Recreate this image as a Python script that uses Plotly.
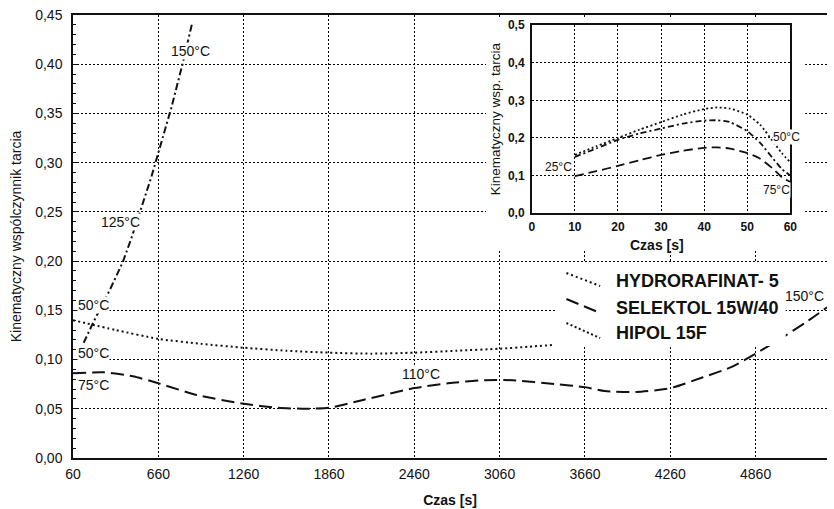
import plotly.graph_objects as go

# ---------------- data (main chart) ----------------
hydro_t = [60, 360, 660, 960, 1260, 1560, 1860, 2160, 2460, 2760, 3060, 3260, 3450]
hydro_k = [0.140, 0.130, 0.121, 0.116, 0.112, 0.109, 0.107, 0.106, 0.107, 0.109, 0.111, 0.113, 0.115]

selek_t = [60, 280, 480, 660, 930, 1260, 1500, 1700, 1860, 2100, 2460, 2700, 2950, 3150,
           3450, 3660, 3800, 4020, 4260, 4490, 4700, 4860, 5055, 5215, 5362]
selek_k = [0.086, 0.087, 0.083, 0.076, 0.064, 0.055, 0.051, 0.050, 0.051, 0.059, 0.071, 0.076,
           0.079, 0.079, 0.075, 0.072, 0.068, 0.067, 0.071, 0.082, 0.093, 0.106, 0.123, 0.138, 0.153]

hipol_t = [135, 200, 320, 410, 470, 525, 610, 680, 750, 830, 900]
hipol_k = [0.117, 0.137, 0.171, 0.199, 0.223, 0.247, 0.285, 0.320, 0.355, 0.400, 0.443]

# temperature labels on main chart: (text, time, value)
main_labels_text = ["150°C", "125°C", "50°C", "50°C", "75°C", "110°C", "150°C"]
main_labels_t = [889, 394, 206, 206, 206, 2510, 5202]
main_labels_k = [0.4136, 0.2402, 0.1555, 0.1067, 0.0742, 0.085, 0.1646]

x_ticks = [60, 660, 1260, 1860, 2460, 3060, 3660, 4260, 4860]
y_ticks = [0.00, 0.05, 0.10, 0.15, 0.20, 0.25, 0.30, 0.35, 0.40, 0.45]

# ---------------- data (inset) ----------------
ins_t = [10, 15, 20, 25, 30, 35, 40, 43, 46, 50, 53, 56, 58, 60]
ins_hydro = [0.155, 0.178, 0.200, 0.222, 0.242, 0.262, 0.277, 0.281, 0.278, 0.262, 0.235, 0.190, 0.160, 0.135]
ins_hipol = [0.150, 0.172, 0.195, 0.212, 0.225, 0.238, 0.246, 0.247, 0.242, 0.218, 0.187, 0.145, 0.118, 0.100]
ins_selek = [0.099, 0.112, 0.126, 0.141, 0.155, 0.166, 0.174, 0.175, 0.172, 0.160, 0.145, 0.118, 0.096, 0.083]

ins_labels_text = ["25°C", "50°C", "75°C"]
ins_labels_t = [6.2, 59.1, 56.8]
ins_labels_k = [0.123, 0.203, 0.062]

series_names = ["HYDRORAFINAT- 5", "SELEKTOL 15W/40", "HIPOL 15F"]

# ---------------- styles ----------------
FONT = "Arial, Liberation Sans, sans-serif"
INK = "#111111"
GRID = "#000000"
GRID_DASH = "2px,2px"
DASH_HYDRO = "2px,3px"
DASH_SELEK = "13px,6px"
DASH_HIPOL = "7px,3px,2px,3px"
INS_DASH_HYDRO = "2px,2.5px"
INS_DASH_SELEK = "9px,5px"
INS_DASH_HIPOL = "6px,3px,2px,3px"

fig = go.Figure()

# main curves
fig.add_trace(go.Scatter(x=hydro_t, y=hydro_k, mode="lines", name=series_names[0],
                         line=dict(color=INK, width=2, dash=DASH_HYDRO, shape="spline", smoothing=0.6),
                         xaxis="x", yaxis="y", showlegend=False))
fig.add_trace(go.Scatter(x=selek_t, y=selek_k, mode="lines", name=series_names[1],
                         line=dict(color=INK, width=2, dash=DASH_SELEK, shape="spline", smoothing=0.6),
                         xaxis="x", yaxis="y", showlegend=False))
fig.add_trace(go.Scatter(x=hipol_t, y=hipol_k, mode="lines", name=series_names[2],
                         line=dict(color=INK, width=2, dash=DASH_HIPOL),
                         xaxis="x", yaxis="y", showlegend=False))

# white backing panels (inset area, legend area)
for ax in ("2", "3"):
    fig.add_trace(go.Scatter(x=[0, 1, 1, 0, 0], y=[0, 0, 1, 1, 0], mode="lines", fill="toself",
                             fillcolor="white", line=dict(width=0, color="white"),
                             hoverinfo="skip", showlegend=False,
                             xaxis="x" + ax, yaxis="y" + ax))

# inset curves
fig.add_trace(go.Scatter(x=ins_t, y=ins_hydro, mode="lines", name=series_names[0],
                         line=dict(color=INK, width=1.8, dash=INS_DASH_HYDRO, shape="spline", smoothing=0.6),
                         xaxis="x4", yaxis="y4", showlegend=False))
fig.add_trace(go.Scatter(x=ins_t, y=ins_hipol, mode="lines", name=series_names[2],
                         line=dict(color=INK, width=1.8, dash=INS_DASH_HIPOL, shape="spline", smoothing=0.6),
                         xaxis="x4", yaxis="y4", showlegend=False))
fig.add_trace(go.Scatter(x=ins_t, y=ins_selek, mode="lines", name=series_names[1],
                         line=dict(color=INK, width=1.8, dash=INS_DASH_SELEK, shape="spline", smoothing=0.6),
                         xaxis="x4", yaxis="y4", showlegend=False))

annotations = []
for txt, t, k in zip(main_labels_text, main_labels_t, main_labels_k):
    annotations.append(dict(text=txt, x=t, y=k, xref="x", yref="y", showarrow=False,
                            font=dict(family=FONT, size=14, color=INK),
                            bgcolor="white", borderpad=0))
for txt, t, k in zip(ins_labels_text, ins_labels_t, ins_labels_k):
    annotations.append(dict(text=txt, x=t, y=k, xref="x4", yref="y4", showarrow=False,
                            font=dict(family=FONT, size=12, color=INK),
                            bgcolor="white", borderpad=0))

# custom legend (text + slanted key lines)
leg_text_y = [0.3995, 0.3386, 0.2822]
for name, yy in zip(series_names, leg_text_y):
    annotations.append(dict(text=name, x=0.7175, y=yy, xref="paper", yref="paper",
                            xanchor="left", yanchor="middle", showarrow=False,
                            font=dict(family=FONT, size=18, color=INK, weight="bold")))

# inset x-axis title
annotations.append(dict(text="Czas [s]", x=0.8134, y=0.4808, xref="paper", yref="paper",
                        showarrow=False, font=dict(family=FONT, size=14, color=INK, weight="bold")))

shapes = []
leg_key_y = [(0.4176, 0.3883), (0.3589, 0.3273), (0.3047, 0.2709)]
for (y0, y1), dsh in zip(leg_key_y, [DASH_HYDRO, DASH_SELEK, INS_DASH_HYDRO]):
    shapes.append(dict(type="line", xref="paper", yref="paper", x0=0.6544, x1=0.6991,
                       y0=y0, y1=y1, layer="above", line=dict(color=INK, width=2, dash=dsh)))

tickfont = dict(family=FONT, size=14, color=INK)

fig.update_layout(
    width=834, height=509, autosize=False,
    margin=dict(l=73, r=0, t=15, b=51),
    paper_bgcolor="white", plot_bgcolor="white",
    separators=", ",
    showlegend=False,
    annotations=annotations,
    shapes=shapes,
    xaxis=dict(domain=[0, 1], range=[60, 5362], tickvals=x_ticks, ticks="",
               showgrid=True, gridcolor=GRID, griddash=GRID_DASH, gridwidth=1,
               showline=True, linecolor=INK, linewidth=2, mirror=True, zeroline=False,
               tickfont=tickfont, ticklabelstandoff=2,
               title=dict(text="<b>Czas [s]</b>", font=dict(family=FONT, size=14, color=INK), standoff=14)),
    yaxis=dict(domain=[0, 1], range=[0, 0.45], tickvals=y_ticks, tickformat=".2f",
               ticks="inside", ticklen=4, tickcolor=INK,
               minor=dict(dtick=0.01, ticks="inside", ticklen=3, tickcolor=INK, showgrid=False),
               showgrid=True, gridcolor=GRID, griddash=GRID_DASH, gridwidth=1,
               showline=True, linecolor=INK, linewidth=1.5, zeroline=False,
               tickfont=tickfont, ticklabelstandoff=6,
               title=dict(text="Kinematyczny wspólczynnik tarcia", font=dict(family=FONT, size=14, color=INK),
                          standoff=10)),
    xaxis2=dict(domain=[0.548, 0.971], range=[0, 1], visible=False, anchor="y2", fixedrange=True),
    yaxis2=dict(domain=[0.4695, 0.9925], range=[0, 1], visible=False, anchor="x2", fixedrange=True),
    xaxis3=dict(domain=[0.640, 0.945], range=[0, 1], visible=False, anchor="y3", fixedrange=True),
    yaxis3=dict(domain=[0.2528, 0.4424], range=[0, 1], visible=False, anchor="x3", fixedrange=True),
    xaxis4=dict(domain=[0.6084, 0.9514], range=[0, 60], dtick=10, tick0=0, anchor="y4", ticks="",
                showgrid=True, gridcolor=GRID, griddash=GRID_DASH, gridwidth=1,
                showline=True, linecolor=INK, linewidth=1.5, mirror=True, zeroline=False,
                tickfont=dict(family=FONT, size=12, color=INK, weight="bold"), ticklabelstandoff=2),
    yaxis4=dict(domain=[0.5524, 0.9774], range=[0, 0.5], dtick=0.1, tick0=0, tickformat=".1f",
                anchor="x4", ticks="",
                showgrid=True, gridcolor=GRID, griddash=GRID_DASH, gridwidth=1,
                showline=True, linecolor=INK, linewidth=1.5, mirror=True, zeroline=False,
                tickfont=dict(family=FONT, size=12, color=INK, weight="bold"), ticklabelstandoff=3,
                title=dict(text="Kinematyczny wsp. tarcia", font=dict(family=FONT, size=13.5, color=INK),
                           standoff=4)),
)

fig.write_html("out.html")
